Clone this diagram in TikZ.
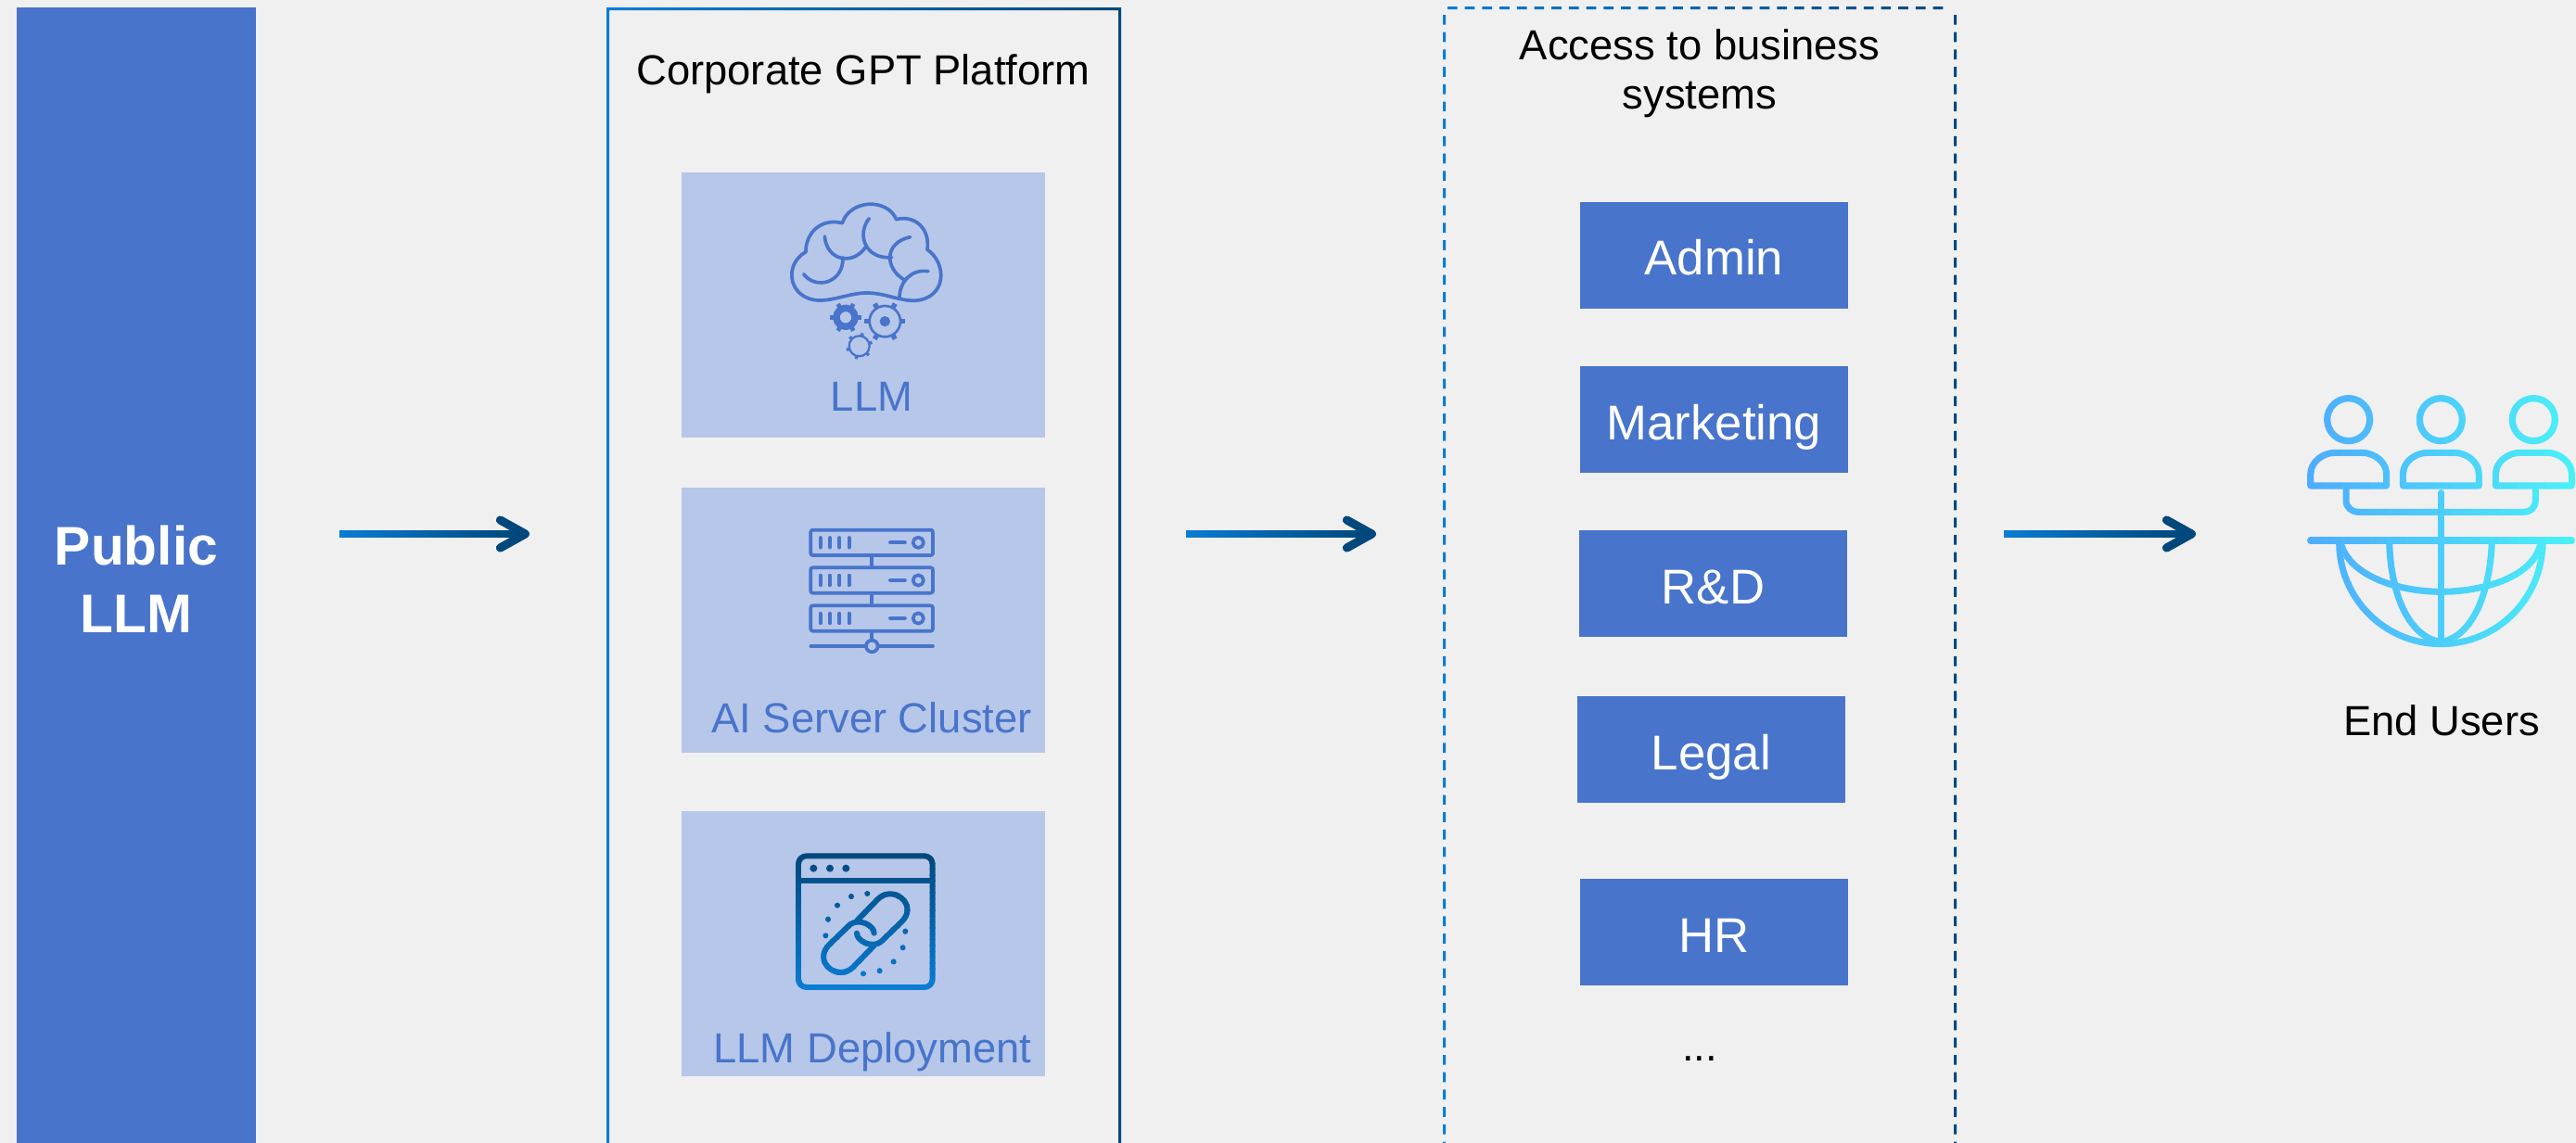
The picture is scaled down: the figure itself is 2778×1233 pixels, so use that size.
\documentclass[tikz,border=0pt]{standalone}
\usepackage{fontspec}
\setmainfont{Liberation Sans}
\usetikzlibrary{positioning}
\usetikzlibrary{calc}
\usetikzlibrary{arrows.meta}

\definecolor{pagebg}{HTML}{F0F0F0}
\definecolor{llmblue}{HTML}{4874CB}
\definecolor{panelblue}{HTML}{B6C7E9}
\definecolor{flowstart}{HTML}{0A7CD4}
\definecolor{flowend}{HTML}{00487C}
\definecolor{userstart}{HTML}{4FACFE}
\definecolor{userend}{HTML}{4AF2F6}

\tikzset{
  bodytext/.style={font=\fontsize{12.9}{15.5}\selectfont, inner sep=0pt, anchor=base},
  paneltext/.style={bodytext, text=llmblue},
  panel/.style={fill=panelblue, minimum width=3.92cm, minimum height=2.86cm, inner sep=0pt, outer sep=0pt},
  system/.style={fill=llmblue, text=white, font=\fontsize{15}{18}\selectfont,
    minimum width=2.89cm, minimum height=1.15cm, inner sep=0pt, outer sep=0pt,
    text height=12.2pt, text depth=0pt},
  icon/.style={draw=llmblue, line width=1.05pt, line cap=round, line join=round},
  flow/.style={draw=flowend, line width=2pt,
    -{Straight Barb[length=.27cm, width=.3cm, round, line width=2.6pt]}},
  flowshade/.style={left color=flowstart, right color=flowend},
  band/.style={draw=bandcolor, line cap=round, line join=round}
}

\newcommand{\cogwheel}[6]{
  \draw[icon, line width=#4] #1 circle[radius=#2];
  \foreach \a in {0,60,...,300}
    \draw[icon, line cap=butt, line width=#5] #1 +(\a+#6:#2) -- +(\a+#6:#3);
}

\newcommand{\linkicon}{
  \draw[band, line width=1.7pt, rounded corners=2.5pt] (243,100) rectangle (677,525);
  \draw[band, line width=1.7pt] (243,180) -- (677,180);
  \foreach \px/\py in {292/140,345/140,397/140}
    \fill[bandcolor] (\px,\py) circle[radius=12];
  \foreach \px/\py in {466/222,414/231,369/260,339/305,331/358,589/344,581/397,551/442,506/472,453/481}
    \fill[bandcolor] (\px,\py) circle[radius=9];
  \draw[band, line width=1.7pt] (432,310) -- (500,240) .. controls (550,190) and (635,260) .. (575,315)
    -- (510,378) .. controls (480,400) and (432,375) .. (432,350);
  \draw[band, line width=1.7pt] (488,390) -- (420,460) .. controls (370,510) and (285,440) .. (345,385)
    -- (410,322) .. controls (440,300) and (488,325) .. (488,350);
}

\newcommand{\usersicon}{
  \foreach \dx in {0,299,599} {
    \draw[band, line width=2.05pt] (248+\dx,158) circle[radius=69];
    \draw[band, line width=2pt] (125+\dx,372) -- (125+\dx,335)
      .. controls (125+\dx,295) and (165+\dx,265) .. (205+\dx,265) -- (291+\dx,265)
      .. controls (331+\dx,265) and (371+\dx,295) .. (371+\dx,335) -- (371+\dx,372) -- cycle;
  }
  \draw[band, line width=2pt] (240,385) -- (240,420)
    .. controls (240,442) and (258,457) .. (280,457) -- (815,457)
    .. controls (837,457) and (853,442) .. (853,420) -- (853,385);
  \draw[band, line width=2pt] (547,395) -- (547,875);
  \draw[band, line width=2.1pt] (125,549) -- (970,549);
  \draw[band, line width=2pt] (218,555) arc[start angle=180, end angle=0, radius=329];
  \draw[band, line width=2pt] (225,565) .. controls (260,670) and (420,715) .. (547,715)
    .. controls (680,715) and (840,670) .. (868,565);
  \draw[band, line width=2pt] (380,555) .. controls (385,720) and (440,860) .. (547,878)
    .. controls (650,860) and (705,720) .. (712,555);
}

\begin{document}
\begin{tikzpicture}[x=.01cm, y=-.01cm]
  \clip (0,0) rectangle (2778,1233);
  \fill[pagebg] (0,0) rectangle (2778,1233);

  \node (public) [fill=llmblue, text=white, align=center, inner sep=0pt,
    font=\fontsize{16.7}{20.7}\selectfont\bfseries,
    minimum width=2.58cm, minimum height=12.34cm] at (147,625) {Public\\LLM};

  \shade[flowshade, even odd rule] (654,8) rectangle (1209,1300) (657,11) rectangle (1206,1297);
  \shade[flowshade]
    \foreach \x in {1561,1579.7,...,2100} { (\x,7) rectangle ++(10.7,3) }
    \foreach \y in {16,34.7,...,1240} { (1556,\y) rectangle ++(3,10.7) (2107,\y) rectangle ++(3,10.7) };

  \node (platformtitle) [bodytext] at (931,91) {Corporate GPT Platform};
  \node (llmpanel) [panel] at (931,329) {};
  \node (serverpanel) [panel, below=.54cm of llmpanel] {};
  \node (deploypanel) [panel, below=.63cm of serverpanel] {};
  \node (llmlabel) [paneltext] at (940,443) {LLM};
  \node (serverlabel) [paneltext] at (940,790) {AI Server Cluster};
  \node (deploylabel) [paneltext] at (941,1146) {LLM Deployment};

  \begin{scope}[shift={(720,180)}, scale=.3333]
    \draw[icon] (447,275) .. controls (447,210) and (500,165) .. (565,182)
      .. controls (590,105) and (710,100) .. (740,170)
      .. controls (800,155) and (850,200) .. (840,268)
      .. controls (905,310) and (905,430) .. (795,433)
      .. controls (750,433) and (700,408) .. (645,408)
      .. controls (590,408) and (540,433) .. (490,432)
      .. controls (395,430) and (370,320) .. (447,275) -- cycle;
    \draw[icon] (440,347) .. controls (480,400) and (570,375) .. (567,293);
    \draw[icon] (508,225) .. controls (515,305) and (600,320) .. (640,260);
    \draw[icon] (652,167) .. controls (610,220) and (640,300) .. (725,293);
    \draw[icon] (785,227) .. controls (700,245) and (700,330) .. (770,368);
    \draw[icon] (843,338) .. controls (790,330) and (750,370) .. (750,425);
    \cogwheel{(576,487)}{30}{50}{2.1pt}{1.3pt}{0}
    \cogwheel{(703,500)}{50}{66}{.75pt}{1.5pt}{0}
    \cogwheel{(620,580)}{33}{43}{.65pt}{.95pt}{44}
    \fill[llmblue] (703,500) circle[radius=17];
  \end{scope}

  \begin{scope}[shift={(720,530)}, scale=.3333]
    \foreach \c in {166,288,411} {
      \draw[icon, rounded corners=.6pt] (463,\c-41) rectangle (858,\c+41);
      \foreach \t in {494,525,556,587}
        \draw[icon] (\t,\c-16) -- (\t,\c+16);
      \draw[icon] (720,\c) -- (768,\c);
      \draw[icon] (811,\c) circle[radius=17];
    }
    \draw[icon] (661,208) -- (661,247) (661,330) -- (661,369) (661,453) -- (661,482);
    \draw[icon] (463,501) -- (642,501) (680,501) -- (858,501);
    \draw[icon] (661,501) circle[radius=19];
  \end{scope}

  \begin{scope}[shift={(780,890)}, scale=.3333]
    \foreach \i in {0,...,23} {
      \pgfmathsetmacro{\mixed}{100*\i/23}
      \colorlet{bandcolor}{flowstart!\mixed!flowend}
      \begin{scope}
        \clip (225,85+\i*19) rectangle (695,105.5+\i*19);
        \linkicon
      \end{scope}
    }
  \end{scope}

  \node (accesstitle) [bodytext] at (1833,64) {Access to business};
  \node (accesstitleb) [bodytext] at (1833,117) {systems};
  \node (admin) [system] at (1848.5,275.5) {Admin};
  \node (marketing) [system, below=.62cm of admin] {Marketing};
  \node (rnd) [system, below=.62cm of marketing, xshift=-.01cm] {R\&D};
  \node (legal) [system, below=.64cm of rnd, xshift=-.02cm] {Legal};
  \node (hr) [system, below=.82cm of legal, xshift=.03cm] {HR};
  \node (more) [bodytext] at (1833,1144) {...};

  \begin{scope}[shift={(2450,400)}, scale=.3333]
    \foreach \i in {0,...,29} {
      \pgfmathsetmacro{\mixed}{100*\i/29}
      \colorlet{bandcolor}{userend!\mixed!userstart}
      \begin{scope}
        \clip (105+\i*30,60) rectangle (136.5+\i*30,900);
        \usersicon
      \end{scope}
    }
  \end{scope}
  \node (endusers) [bodytext] at (2633,793) {End Users};

  \coordinate (flowa) at (366,576);
  \coordinate (flowb) at (571,576);
  \coordinate (flowc) at (1279,576);
  \coordinate (flowd) at (1484,576);
  \coordinate (flowe) at (2161,576);
  \coordinate (flowf) at (2368,576);
  \foreach \s/\e in {flowa/flowb,flowc/flowd,flowe/flowf} {
    \draw[flow] (\s) -- (\e);
    \shade[flowshade] ($(\s)+(0,-3.5)$) rectangle ($(\e)+(-14,3.5)$);
  }
\end{tikzpicture}
\end{document}
